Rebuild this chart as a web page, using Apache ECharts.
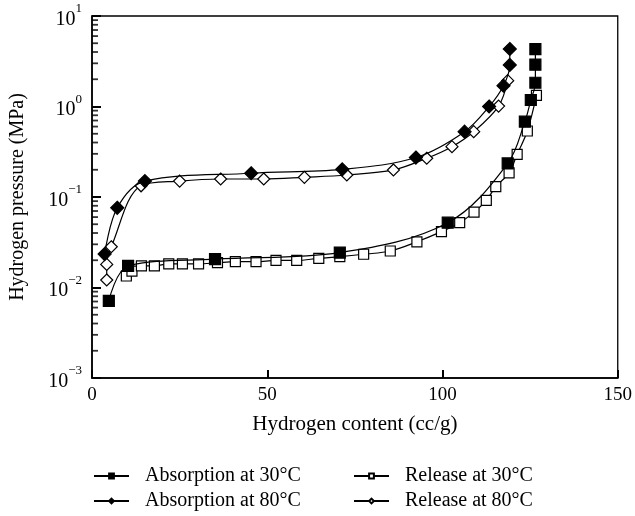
<!DOCTYPE html>
<html>
<head>
<meta charset="utf-8">
<script src="https://cdn.jsdelivr.net/npm/echarts@6/dist/echarts.min.js"></script>
<style>html,body{margin:0;padding:0;background:#fff}#c{width:635px;height:516px}</style>
</head>
<body>
<div id="c"></div>
<script>
// ---- data ----
const seriesNames = ['Absorption at 30°C', 'Release at 30°C', 'Absorption at 80°C', 'Release at 80°C'];

const abs30X = [4.8, 10.3, 35.1, 70.7, 101.5, 118.6, 123.5, 125.2, 126.5, 126.5, 126.5];
const abs30Y = [0.0071, 0.0173, 0.0206, 0.0243, 0.052, 0.235, 0.68, 1.18, 1.83, 2.9, 4.3];

const rel30X = [9.8, 11.4, 14.1, 17.8, 21.9, 25.8, 30.4, 35.8, 40.9, 46.8, 52.5, 58.4, 64.7, 70.7, 77.5, 85.1, 92.7, 99.7, 104.9, 109.0, 112.5, 115.2, 119.0, 121.3, 124.2, 126.8];
const rel30Y = [0.0134, 0.0152, 0.0173, 0.0173, 0.0182, 0.0182, 0.0182, 0.0188, 0.0193, 0.0193, 0.0199, 0.0199, 0.021, 0.0219, 0.0233, 0.0253, 0.032, 0.0414, 0.052, 0.068, 0.092, 0.13, 0.185, 0.296, 0.536, 1.33];

const abs80X = [3.6, 7.2, 15.1, 45.4, 71.4, 92.4, 106.3, 113.3, 117.4, 119.2, 119.2];
const abs80Y = [0.0234, 0.076, 0.150, 0.183, 0.202, 0.273, 0.527, 1.0, 1.70, 2.88, 4.32];

const rel80X = [4.2, 4.2, 5.5, 14.0, 25.0, 36.7, 49.0, 60.6, 72.7, 86.0, 95.5, 102.7, 108.9, 116.0, 118.6];
const rel80Y = [0.0121, 0.018, 0.0282, 0.133, 0.150, 0.158, 0.158, 0.165, 0.175, 0.199, 0.268, 0.36, 0.527, 1.01, 1.93];

const xTicks = [0, 50, 100, 150];
const yMinorTicks = [];
for (let e = -3; e < 1; e++) for (let m = 2; m <= 9; m++) yMinorTicks.push(m * Math.pow(10, e));

// ---- chart ----
const FONT = "'Liberation Serif', 'DejaVu Serif', serif";
const pairs = (xs, ys) => xs.map((x, i) => [x, ys[i]]);

const chart = echarts.init(document.getElementById('c'), null, {renderer: 'canvas'});

function lineSeries(name, xs, ys, symbol, filled, size) {
  return {
    name, type: 'line', data: pairs(xs, ys),
    smooth: 0.35, symbol, symbolSize: size, showSymbol: true,
    lineStyle: {color: '#000', width: 1.2},
    itemStyle: {color: filled ? '#000' : '#fff', borderColor: '#000', borderWidth: 1.2},
    emphasis: {disabled: true}, animation: false, z: filled ? 3 : 2
  };
}

const legendText = {fontFamily: FONT, fontSize: 20, color: '#000', padding: [0, 0, 0, 11]};

chart.setOption({
  animation: false,
  grid: {left: 92, right: 13, top: 16, bottom: 138, show: true, borderColor: '#000', borderWidth: 1.3},
  xAxis: {
    type: 'value', min: 0, max: 150, interval: 50,
    name: 'Hydrogen content (cc/g)', nameLocation: 'middle', nameGap: 36,
    nameTextStyle: {fontFamily: FONT, fontSize: 21, color: '#000'},
    axisLine: {show: true, lineStyle: {color: '#000', width: 1.6}},
    axisTick: {show: true, inside: true, length: 8, lineStyle: {color: '#000', width: 2}},
    axisLabel: {fontFamily: FONT, fontSize: 19, color: '#000', margin: 8,
      formatter: v => xTicks.includes(v) ? String(v) : ''},
    splitLine: {show: false}
  },
  yAxis: {
    type: 'log', logBase: 10, min: 0.001, max: 10,
    name: 'Hydrogen pressure (MPa)', nameLocation: 'middle', nameGap: 64, nameRotate: 90,
    nameTextStyle: {fontFamily: FONT, fontSize: 20, color: '#000'},
    axisLine: {show: true, lineStyle: {color: '#000', width: 1.6}},
    axisTick: {show: true, inside: true, length: 9, lineStyle: {color: '#000', width: 2}},
    axisLabel: {
      margin: 10,
      formatter: v => {
        const e = Math.round(Math.log10(v));
        return '{b|10}{s|' + String(e).replace('-', '\u2212') + '}';
      },
      rich: {
        b: {fontFamily: FONT, fontSize: 20, color: '#000', lineHeight: 27, verticalAlign: 'bottom'},
        s: {fontFamily: FONT, fontSize: 13, color: '#000', lineHeight: 13, verticalAlign: 'top'}
      }
    },
    splitLine: {show: false}
  },
  legend: [
    {orient: 'vertical', left: 93, top: 466, padding: 0, itemGap: 5, itemWidth: 35, itemHeight: 6, height: 50,
     data: [seriesNames[0], seriesNames[2]], textStyle: legendText, selectedMode: false},
    {orient: 'vertical', left: 353, top: 466, padding: 0, itemGap: 5, itemWidth: 35, itemHeight: 6, height: 50,
     data: [seriesNames[1], seriesNames[3]], textStyle: legendText, selectedMode: false}
  ],
  series: [
    lineSeries(seriesNames[0], abs30X, abs30Y, 'rect', true, 11),
    lineSeries(seriesNames[1], rel30X, rel30Y, 'rect', false, 10),
    lineSeries(seriesNames[2], abs80X, abs80Y, 'diamond', true, 13),
    lineSeries(seriesNames[3], rel80X, rel80Y, 'diamond', false, 12),
    {
      name: 'yMinorTicks', type: 'scatter', silent: true, animation: false, clip: false,
      data: yMinorTicks.map(v => [0, v]),
      symbol: 'rect', symbolSize: [6, 1.8], symbolOffset: [3, 0],
      itemStyle: {color: '#000'}, emphasis: {disabled: true}, z: 5
    }
  ]
});
</script>
</body>
</html>
